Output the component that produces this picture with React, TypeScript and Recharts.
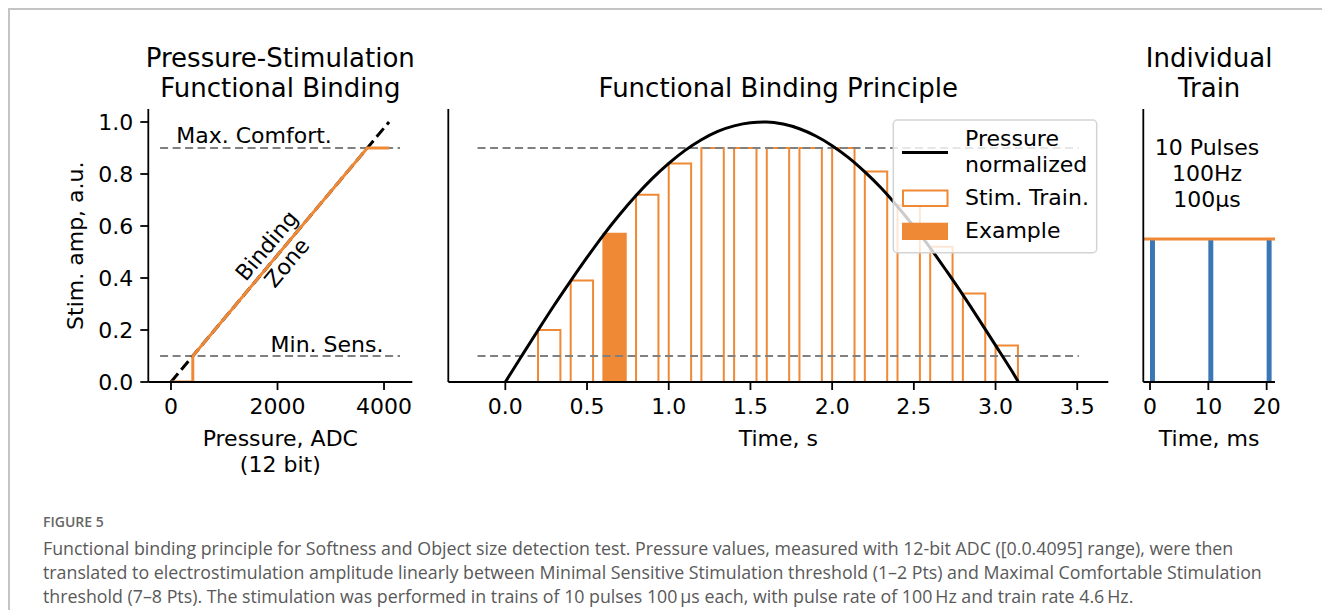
import React from 'react';
import { ComposedChart, Line, XAxis, YAxis, ReferenceArea } from 'recharts';

const W = 1322;
const H = 610;
const FONT = "'DejaVu Sans', sans-serif";
const CAPTION_FONT = "'Open Sans', sans-serif";
const ORANGE = '#ef8936';
const BLUE = '#3a78b5';
const GRAY = '#808080';

// ---------- shared amplitude axis ----------
const ampTicks = [0, 0.2, 0.4, 0.6, 0.8, 1.0];
const ampDomain = [0, 1.05];
const MIN_SENS = 0.1;
const MAX_COMFORT = 0.9;

// ---------- panel 1: pressure -> stimulation ----------
const pressureTicks = [0, 2000, 4000];
const pressureDomain = [-426, 4531];
const identityX = [0, 4095];
const identityY = [0, 1.0];
const bindingX = [0, 409.5, 409.5, 3685.5, 4095];
const bindingY = [0, 0, 0.1, 0.9, 0.9];
const thresholdSpan1 = [-205, 4300];

// ---------- panel 2: functional binding principle ----------
const timeTicks = [0, 0.5, 1.0, 1.5, 2.0, 2.5, 3.0, 3.5];
const timeDomain = [-0.349, 3.69];
const pressureT = [0, 0.1, 0.2, 0.3, 0.4, 0.5, 0.6, 0.7, 0.8, 0.9, 1.0, 1.1, 1.2, 1.3, 1.4, 1.5, 1.6,
  1.7, 1.8, 1.9, 2.0, 2.1, 2.2, 2.3, 2.4, 2.5, 2.6, 2.7, 2.8, 2.9, 3.0, 3.1, 3.14];
const pressureNorm = [0, 0.1, 0.199, 0.296, 0.389, 0.479, 0.565, 0.644, 0.717, 0.783, 0.841, 0.891,
  0.932, 0.964, 0.985, 0.997, 1.0, 0.992, 0.974, 0.946, 0.909, 0.863, 0.808, 0.746, 0.675, 0.598,
  0.516, 0.427, 0.335, 0.239, 0.141, 0.042, 0.0];
const trainStarts = [0.2, 0.4, 0.6, 0.8, 1.0, 1.2, 1.4, 1.6, 1.8, 2.0, 2.2, 2.4, 2.6, 2.8, 3.0];
const trainAmps = [0.2, 0.39, 0.57, 0.72, 0.84, 0.9, 0.9, 0.9, 0.9, 0.9, 0.81, 0.68, 0.52, 0.34, 0.14];
const TRAIN_DURATION = 0.137;
const EXAMPLE_INDEX = 2;
const thresholdSpan2 = [-0.17, 3.51];

// ---------- panel 3: individual train ----------
const msTicks = [0, 10, 20];
const msDomain = [-1.15, 21.43];
const pulseStarts = [0, 10, 20];
const PULSE_DRAW_WIDTH = 0.85;
const trainLevelX = [-1.15, 21.43];
const trainLevelY = [0.55, 0.55];

const pts = (xs: number[], ys: number[]) => xs.map((x, i) => ({ x, y: ys[i] }));
const flat = (xs: number[], y: number) => xs.map((x) => ({ x, y }));

const TOP = 109;
const BOTTOM = 382;
const Y_AXIS_W = 60;
const X_AXIS_H = 40;

const axisStroke = { stroke: '#000', strokeWidth: 1.8 };
const tickStyle = { fontSize: 22, fill: '#000', fontFamily: FONT };

function Panel(props: {
  left: number;
  right: number;
  xDomain: number[];
  xTicks: number[];
  xFormat: (v: number) => string;
  yLabels: boolean;
  showAxes?: boolean;
  children: React.ReactNode;
}) {
  const { left, right, xDomain, xTicks, xFormat, yLabels, children } = props;
  const show = props.showAxes !== false;
  return (
    <div style={{ position: 'absolute', left: 0, top: 0 }}>
      <ComposedChart
        width={W}
        height={H}
        margin={{ top: TOP, left: left - Y_AXIS_W, right: W - right, bottom: H - BOTTOM - X_AXIS_H }}
      >
        <XAxis
          type="number"
          dataKey="x"
          domain={xDomain}
          ticks={xTicks}
          allowDataOverflow
          interval={0}
          tickFormatter={xFormat}
          height={X_AXIS_H}
          tickSize={8}
          tickMargin={8}
          axisLine={show ? axisStroke : false}
          tickLine={show ? axisStroke : false}
          tick={show ? tickStyle : false}
        />
        <YAxis
          type="number"
          dataKey="y"
          domain={ampDomain}
          ticks={ampTicks}
          allowDataOverflow
          interval={0}
          width={Y_AXIS_W}
          tickSize={8}
          tickMargin={7}
          tickFormatter={(v: number) => v.toFixed(1)}
          axisLine={show ? axisStroke : false}
          tickLine={show ? axisStroke : false}
          tick={show && yLabels ? tickStyle : false}
        />
        {children}
      </ComposedChart>
    </div>
  );
}

const lineCommon = { dot: false, activeDot: false, isAnimationActive: false, dataKey: 'y' } as const;

export default function App() {
  const p1L = 148.3, p1R = 412.3;
  const p2L = 448.3, p2R = 1108.3;
  const p3L = 1143.3, p3R = 1275;
  const c1 = (p1L + p1R) / 2, c2 = (p2L + p2R) / 2, c3 = (p3L + p3R) / 2;

  return (
    <div style={{ position: 'absolute', left: 0, top: 0, width: W, height: H, background: '#fff', overflow: 'hidden' }}>
      <Panel left={p1L} right={p1R} xDomain={pressureDomain} xTicks={pressureTicks} xFormat={(v) => String(v)} yLabels>
        <Line {...lineCommon} data={flat(thresholdSpan1, MIN_SENS)} stroke={GRAY} strokeWidth={2} strokeDasharray="8 4.5" />
        <Line {...lineCommon} data={flat(thresholdSpan1, MAX_COMFORT)} stroke={GRAY} strokeWidth={2} strokeDasharray="8 4.5" />
        <Line {...lineCommon} data={pts(identityX, identityY)} stroke="#000" strokeWidth={3} strokeDasharray="11 5" />
        <Line {...lineCommon} data={pts(bindingX, bindingY)} stroke={ORANGE} strokeWidth={3} />
      </Panel>

      {/* panel 2 underlay: stimulation trains */}
      <Panel left={p2L} right={p2R} xDomain={timeDomain} xTicks={timeTicks} xFormat={(v) => v.toFixed(1)} yLabels={false} showAxes={false}>
        {trainStarts.map((t, i) => (
          <ReferenceArea
            key={'b' + i}
            x1={t}
            x2={t + TRAIN_DURATION}
            y1={0}
            y2={trainAmps[i]}
            fill={i === EXAMPLE_INDEX ? ORANGE : 'none'}
            fillOpacity={1}
            stroke={ORANGE}
            strokeWidth={2}
          />
        ))}
      </Panel>
      <Panel left={p2L} right={p2R} xDomain={timeDomain} xTicks={timeTicks} xFormat={(v) => v.toFixed(1)} yLabels={false}>
        <Line {...lineCommon} data={flat(thresholdSpan2, MIN_SENS)} stroke={GRAY} strokeWidth={2} strokeDasharray="8 4.5" />
        <Line {...lineCommon} data={flat(thresholdSpan2, MAX_COMFORT)} stroke={GRAY} strokeWidth={2} strokeDasharray="8 4.5" />
        <Line {...lineCommon} type="monotone" data={pts(pressureT, pressureNorm)} stroke="#000" strokeWidth={3} />
      </Panel>

      {/* panel 3 underlay: pulses */}
      <Panel left={p3L} right={p3R} xDomain={msDomain} xTicks={msTicks} xFormat={(v) => String(v)} yLabels={false} showAxes={false}>
        {pulseStarts.map((p, i) => (
          <ReferenceArea
            key={'p' + i}
            x1={p}
            x2={p + PULSE_DRAW_WIDTH}
            y1={0}
            y2={trainLevelY[0]}
            fill={BLUE}
            fillOpacity={1}
            stroke="none"
          />
        ))}
      </Panel>
      <Panel left={p3L} right={p3R} xDomain={msDomain} xTicks={msTicks} xFormat={(v) => String(v)} yLabels={false}>
        <Line {...lineCommon} data={pts(trainLevelX, trainLevelY)} stroke={ORANGE} strokeWidth={3} />
      </Panel>

      <svg width={W} height={H} style={{ position: 'absolute', left: 0, top: 0, pointerEvents: 'none' }}>
        {/* frame */}
        <line x1={8} y1={9} x2={W} y2={9} stroke="#c4c4c4" strokeWidth={2} />
        <line x1={9} y1={8} x2={9} y2={H} stroke="#c4c4c4" strokeWidth={2} />

        <g fontFamily={FONT} fill="#000">
          {/* titles */}
          <text x={c1} y={67} fontSize={26} textAnchor="middle">Pressure-Stimulation</text>
          <text x={c1} y={97} fontSize={26} textAnchor="middle">Functional Binding</text>
          <text x={c2} y={97} fontSize={26} textAnchor="middle">Functional Binding Principle</text>
          <text x={c3} y={67} fontSize={26} textAnchor="middle">Individual</text>
          <text x={c3} y={97} fontSize={26} textAnchor="middle">Train</text>

          {/* axis labels */}
          <text x={c1} y={446} fontSize={22} textAnchor="middle">Pressure, ADC</text>
          <text x={c1} y={472} fontSize={22} textAnchor="middle">(12 bit)</text>
          <text x={c2} y={446} fontSize={22} textAnchor="middle">Time, s</text>
          <text x={c3} y={446} fontSize={22} textAnchor="middle">Time, ms</text>
          <text x={83} y={245.7} fontSize={22} textAnchor="middle" transform="rotate(-90 83 245.7)">Stim. amp, a.u.</text>

          {/* annotations */}
          <text x={254} y={143} fontSize={22} textAnchor="middle">Max. Comfort.</text>
          <text x={327} y={352} fontSize={22} textAnchor="middle">Min. Sens.</text>
          <g transform="rotate(-50 276.7 254)">
            <text x={276.7} y={248.5} fontSize={22} textAnchor="middle">Binding</text>
            <text x={276.7} y={275} fontSize={22} textAnchor="middle">Zone</text>
          </g>
          <text x={1207} y={155} fontSize={22} textAnchor="middle">10 Pulses</text>
          <text x={1207} y={181} fontSize={22} textAnchor="middle">100Hz</text>
          <text x={1207} y={207} fontSize={22} textAnchor="middle">100µs</text>

          {/* legend */}
          <rect x={893.3} y={120} width={203.4} height={132.7} rx={4} fill="#fff" fillOpacity={0.8} stroke="#d4d4d4" strokeWidth={1.5} />
          <line x1={902} y1={152.5} x2={948} y2={152.5} stroke="#000" strokeWidth={3} />
          <text x={965} y={146} fontSize={22}>Pressure</text>
          <text x={965} y={172} fontSize={22}>normalized</text>
          <rect x={903} y={190.5} width={44.5} height={15.5} fill="#fff" stroke={ORANGE} strokeWidth={2} />
          <text x={965} y={205} fontSize={22}>Stim. Train.</text>
          <rect x={902} y={222.7} width={46} height={17.3} fill={ORANGE} />
          <text x={965} y={238} fontSize={22}>Example</text>
        </g>

        {/* caption */}
        <g fontFamily={CAPTION_FONT}>
          <text x={43} y={527} fontSize={14} fontWeight={600} fill="#666">FIGURE 5</text>
          <text x={43} y={555} fontSize={17.8} fill="#595959">
            Functional binding principle for Softness and Object size detection test. Pressure values, measured with 12-bit ADC ([0.0.4095] range), were then
          </text>
          <text x={43} y={579} fontSize={17.8} fill="#595959">
            translated to electrostimulation amplitude linearly between Minimal Sensitive Stimulation threshold (1–2 Pts) and Maximal Comfortable Stimulation
          </text>
          <text x={43} y={603} fontSize={17.8} fill="#595959">
            threshold (7–8 Pts). The stimulation was performed in trains of 10 pulses 100{'\u2009'}μs each, with pulse rate of 100{'\u2009'}Hz and train rate 4.6{'\u2009'}Hz.
          </text>
        </g>
      </svg>
    </div>
  );
}
